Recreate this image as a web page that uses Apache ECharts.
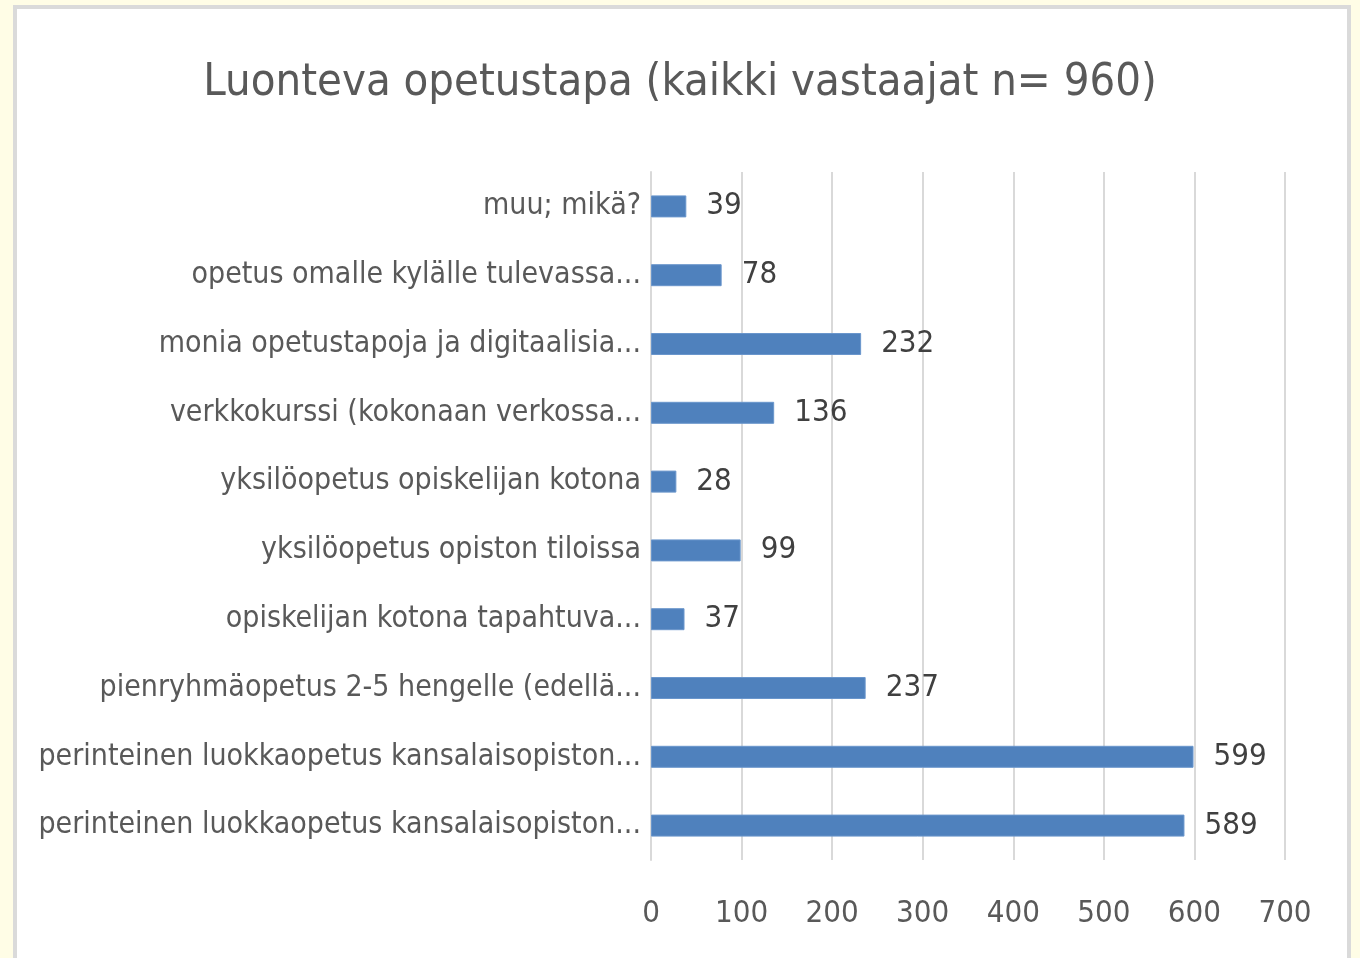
<!DOCTYPE html>
<html>
<head>
<meta charset="utf-8">
<script src="https://cdn.jsdelivr.net/npm/echarts@6/dist/echarts.min.js"></script>
<style>
html,body{margin:0;padding:0;background:#fffde6;width:1360px;height:958px;overflow:hidden;}
#frame{position:absolute;left:13px;top:5px;width:1338px;height:980px;background:#fff;border:4px solid #dadada;box-sizing:border-box;}
#main{position:absolute;left:0;top:0;width:1360px;height:958px;}
</style>
</head>
<body>
<div id="frame"></div>
<div id="main"></div>
<script>
// kategoriat alhaalta ylos
var kategoriat = [
	'perinteinen luokkaopetus kansalaisopiston...',
	'perinteinen luokkaopetus kansalaisopiston...',
	'pienryhmäopetus 2-5 hengelle (edellä...',
	'opiskelijan kotona tapahtuva...',
	'yksilöopetus opiston tiloissa',
	'yksilöopetus opiskelijan kotona',
	'verkkokurssi (kokonaan verkossa...',
	'monia opetustapoja ja digitaalisia...',
	'opetus omalle kylälle tulevassa...',
	'muu; mikä?'
];
var vastaukset = [589, 599, 237, 37, 99, 28, 136, 232, 78, 39];
var xTicks = [0, 100, 200, 300, 400, 500, 600, 700];

var fontti = "'DejaVu Sans Condensed', 'Liberation Sans Narrow', sans-serif";
var myChart = echarts.init(document.getElementById('main'), null, {renderer: 'canvas'});
var option = {
	backgroundColor: 'transparent',
	title: {
		text: 'Luonteva opetustapa (kaikki vastaajat n= 960)',
		left: 'center',
		top: 56,
		textStyle: {fontFamily: fontti, fontSize: 45, fontWeight: 'normal', color: '#595959'}
	},
	grid: {left: 651, right: 75, top: 172, bottom: 98, containLabel: false},
	xAxis: {
		type: 'value',
		min: xTicks[0],
		max: xTicks[xTicks.length - 1],
		interval: 100,
		axisLine: {show: false},
		axisTick: {show: false},
		splitLine: {lineStyle: {color: '#d9d9d9', width: 2}},
		axisLabel: {margin: 38, fontFamily: fontti, fontSize: 31, color: '#595959'}
	},
	yAxis: {
		type: 'category',
		data: kategoriat,
		axisLine: {show: true, lineStyle: {color: '#d9d9d9', width: 2}},
		axisTick: {show: false},
		axisLabel: {margin: 10, fontFamily: fontti, fontSize: 30, color: '#595959'}
	},
	series: [{
		type: 'bar',
		data: vastaukset,
		barWidth: 22,
		itemStyle: {color: '#4f81bd', borderColor: '#6a96cc', borderWidth: 1},
		label: {
			show: true,
			position: 'right',
			distance: 20,
			fontFamily: fontti,
			fontSize: 31,
			color: '#404040'
		},
		animation: false
	}]
};
myChart.setOption(option);
</script>
</body>
</html>
